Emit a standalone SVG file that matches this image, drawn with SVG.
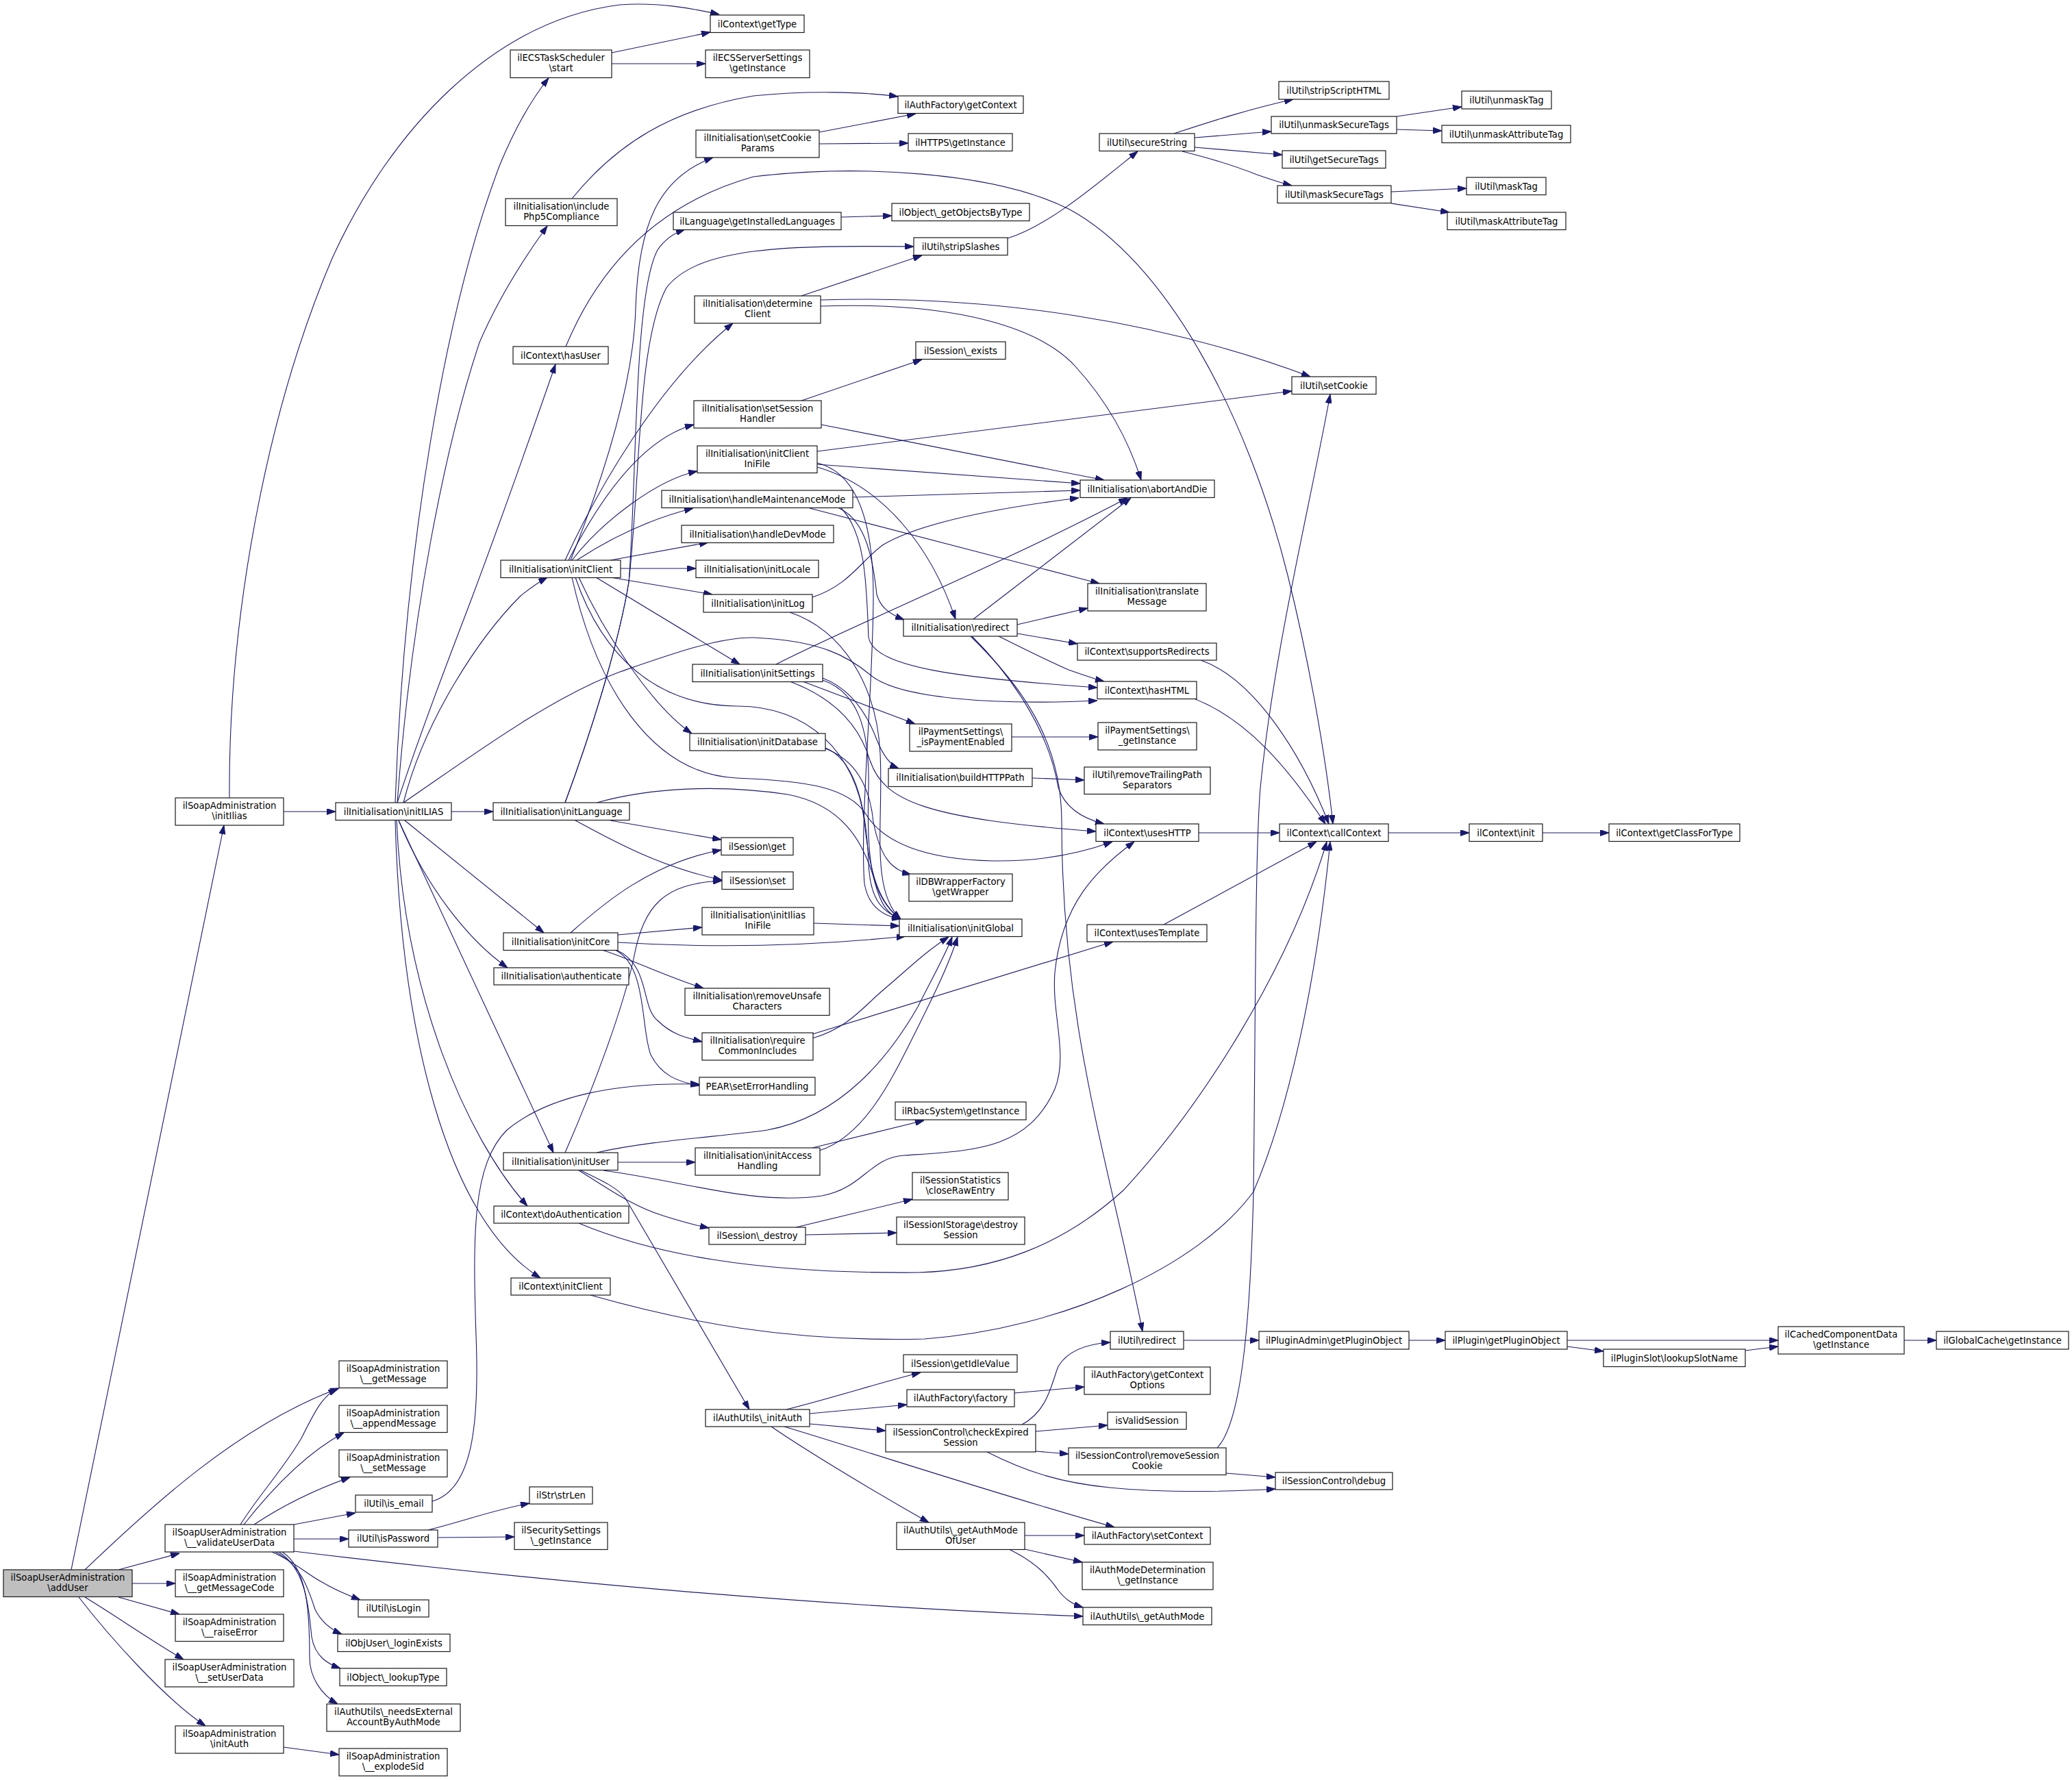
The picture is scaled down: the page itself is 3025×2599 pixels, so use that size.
<svg xmlns="http://www.w3.org/2000/svg" width="3025" height="2599" viewBox="0 0 3025 2599">
<style>
.node rect{fill:#fff;stroke:#1a1a1a;stroke-width:1.2}
.root rect{fill:#bfbfbf}
text{font-family:"DejaVu Sans","Liberation Sans",sans-serif;font-size:13.2px;text-anchor:middle;fill:#000}
#edges path{fill:none;stroke:#191970;stroke-width:1.1;marker-end:url(#arr)}
</style>
<defs>
<marker id="arr" markerWidth="13" markerHeight="9" refX="13" refY="4.5" orient="auto" markerUnits="userSpaceOnUse"><path d="M0,0 L13,4.5 L0,9 z" fill="#191970" stroke="#191970" stroke-width="1"/></marker>
</defs>
<rect width="3025" height="2599" fill="#fff"/>
<g id="edges">
<path d="M335,1165 C333,900 390,600 485,377 C570,190 720,30 905,7 C960,3 1010,12 1050,21"/>
<path d="M893,77 L1037,47"/>
<path d="M893,93 L1030,93"/>
<path d="M835,290 C900,210 980,160 1100,140 C1180,132 1260,134 1311,141"/>
<path d="M1196,193 L1337,166"/>
<path d="M1196,210 L1326,209"/>
<path d="M577,1172 C590,800 650,450 730,240 C755,180 780,140 801,114"/>
<path d="M580,1172 C600,900 650,650 700,500 C730,430 770,370 799,330"/>
<path d="M580,1172 C620,1050 660,950 690,870 C720,790 770,650 811,532"/>
<path d="M589,1172 C620,1050 700,930 760,870 C775,858 790,848 799,843"/>
<path d="M589,1172 C680,1110 800,1020 905,981 C980,955 1050,930 1100,931 C1200,935 1240,960 1270,985 C1310,1020 1450,1030 1602,1023"/>
<path d="M659,1185 L720,1185"/>
<path d="M591,1198 L794,1362"/>
<path d="M582,1198 C620,1290 680,1370 741,1413"/>
<path d="M582,1198 L808,1683"/>
<path d="M579,1198 C590,1450 680,1660 770,1761"/>
<path d="M577,1198 C585,1500 650,1780 789,1866"/>
<path d="M825,818 C870,720 960,560 1070,472"/>
<path d="M830,818 C880,720 940,640 1013,620"/>
<path d="M835,818 C880,760 960,700 1018,688"/>
<path d="M842,818 C900,780 960,755 1012,742"/>
<path d="M891,818 L1034,792"/>
<path d="M906,830 L1016,830"/>
<path d="M891,843 L1040,868"/>
<path d="M833,818 C880,700 925,560 928,450 C932,330 960,260 1041,230"/>
<path d="M825,1172 C870,1050 905,930 918,850 C930,700 925,430 960,365 C970,350 985,340 1000,335"/>
<path d="M825,1172 C870,1050 905,930 918,850 C935,700 930,500 973,420 C1020,360 1150,358 1334,360"/>
<path d="M1228,317 L1302,315"/>
<path d="M1170,432 L1346,373"/>
<path d="M1198,438 C1450,430 1700,470 1913,550"/>
<path d="M1198,447 C1400,440 1520,480 1570,535 C1620,590 1650,650 1666,701"/>
<path d="M1471,348 C1530,330 1600,270 1661,221"/>
<path d="M1170,585 L1346,525"/>
<path d="M1199,620 L1612,701"/>
<path d="M1193,659 L1886,571"/>
<path d="M1193,678 L1577,706"/>
<path d="M1193,682 C1290,710 1360,800 1395,904"/>
<path d="M1193,676 C1250,690 1275,760 1275,870 C1275,1000 1255,1200 1262,1290 C1268,1325 1290,1338 1315,1342"/>
<path d="M1245,726 L1577,716"/>
<path d="M1182,742 L1605,852"/>
<path d="M1225,742 C1265,760 1275,820 1280,868 C1285,885 1295,895 1320,905"/>
<path d="M1228,742 C1265,780 1265,860 1268,930 C1275,975 1400,990 1602,1004"/>
<path d="M1186,872 C1240,855 1260,815 1290,795 C1350,760 1470,740 1575,727"/>
<path d="M1153,894 C1230,920 1280,1000 1285,1100 C1290,1200 1270,1300 1315,1342"/>
<path d="M870,843 L1080,970"/>
<path d="M845,843 C880,920 950,1030 1010,1071"/>
<path d="M840,843 C880,960 960,1030 1075,1031 C1180,1030 1250,1100 1262,1200 C1270,1280 1285,1320 1315,1342"/>
<path d="M835,843 C870,1000 950,1130 1075,1136 C1180,1140 1240,1150 1265,1190 C1290,1230 1350,1255 1450,1257 C1520,1258 1580,1245 1624,1229"/>
<path d="M1421,904 L1651,727"/>
<path d="M1485,912 L1588,888"/>
<path d="M1485,925 L1573,940"/>
<path d="M1458,929 C1490,945 1530,965 1560,978 C1580,985 1600,992 1612,995"/>
<path d="M1419,929 C1470,980 1530,1060 1545,1150 C1555,1180 1580,1195 1612,1203"/>
<path d="M1417,929 C1490,1000 1550,1080 1550,1200 C1550,1500 1620,1700 1668,1944"/>
<path d="M1133,970 C1250,910 1450,830 1646,727"/>
<path d="M1153,995 C1220,1020 1255,1060 1270,1110 C1290,1170 1350,1195 1600,1214"/>
<path d="M1172,995 L1336,1057"/>
<path d="M1201,990 C1240,1005 1265,1040 1280,1080 C1290,1105 1300,1117 1312,1122"/>
<path d="M1201,993 C1250,1010 1270,1060 1268,1150 C1265,1250 1270,1310 1315,1342"/>
<path d="M1205,1093 C1250,1110 1270,1150 1275,1200 C1285,1250 1300,1270 1330,1277"/>
<path d="M1205,1092 C1250,1110 1265,1180 1268,1260 C1270,1310 1285,1330 1315,1342"/>
<path d="M891,1198 L1053,1226"/>
<path d="M840,1198 C890,1225 960,1265 1054,1285"/>
<path d="M871,1172 C950,1150 1050,1145 1150,1160 C1230,1175 1260,1230 1275,1280 C1285,1320 1295,1335 1315,1342"/>
<path d="M833,1362 C880,1320 950,1260 1053,1241"/>
<path d="M902,1365 L1025,1354"/>
<path d="M902,1376 C1000,1382 1150,1385 1322,1367"/>
<path d="M879,1387 C920,1400 970,1425 1027,1443"/>
<path d="M900,1387 C950,1410 935,1470 960,1490 C980,1510 1000,1515 1025,1521"/>
<path d="M898,1387 C945,1410 935,1500 950,1540 C965,1570 990,1580 1021,1585"/>
<path d="M1188,1348 L1313,1352"/>
<path d="M1186,1516 C1240,1500 1260,1470 1290,1445 C1320,1420 1350,1390 1385,1368"/>
<path d="M1186,1510 L1625,1375"/>
<path d="M825,1683 C870,1580 910,1470 925,1400 C940,1320 970,1290 1054,1286"/>
<path d="M871,1683 C950,1665 1050,1660 1120,1650 C1230,1630 1300,1540 1340,1470 C1360,1430 1380,1395 1390,1368"/>
<path d="M902,1697 L1015,1697"/>
<path d="M881,1709 C1000,1725 1100,1760 1200,1746 C1260,1735 1270,1690 1320,1687 C1420,1680 1500,1680 1540,1590 C1560,1540 1535,1480 1540,1420 C1550,1320 1600,1270 1656,1229"/>
<path d="M1196,1680 C1260,1660 1300,1580 1330,1520 C1360,1460 1385,1410 1398,1368"/>
<path d="M1186,1676 L1349,1636"/>
<path d="M845,1709 C880,1730 920,1760 968,1775 C990,1782 1010,1788 1035,1793"/>
<path d="M848,1709 C875,1722 898,1732 912,1748 L1094,2058"/>
<path d="M1162,1792 L1332,1751"/>
<path d="M1176,1803 L1309,1800"/>
<path d="M845,1786 C950,1830 1100,1860 1340,1858 C1450,1855 1550,1820 1640,1738 C1750,1620 1880,1420 1937,1229"/>
<path d="M862,1891 C1000,1930 1150,1960 1350,1955 C1550,1940 1750,1850 1830,1740 C1890,1600 1925,1400 1942,1229"/>
<path d="M631,2192 C690,2175 700,2080 695,1950 C690,1800 690,1700 740,1650 C800,1600 900,1580 1021,1583"/>
<path d="M1743,1020 C1820,1050 1880,1120 1935,1203"/>
<path d="M1753,964 C1830,990 1900,1100 1940,1203"/>
<path d="M826,506 C870,400 950,300 1100,258 C1250,240 1450,250 1560,305 C1700,380 1820,600 1880,840 C1910,960 1935,1100 1946,1203"/>
<path d="M1750,1216 L1868,1216"/>
<path d="M1699,1350 L1922,1229"/>
<path d="M2027,1216 L2145,1216"/>
<path d="M2252,1216 L2349,1216"/>
<path d="M1714,195 C1760,180 1820,160 1888,145"/>
<path d="M1744,201 L1856,192"/>
<path d="M1744,215 L1872,226"/>
<path d="M1726,221 C1770,232 1810,245 1835,255 C1855,262 1870,267 1886,271"/>
<path d="M2039,170 L2134,156"/>
<path d="M2039,189 L2105,191"/>
<path d="M2031,280 L2141,275"/>
<path d="M2031,297 L2116,310"/>
<path d="M1477,1076 L1603,1076"/>
<path d="M1507,1136 L1583,1139"/>
<path d="M1148,2058 C1220,2040 1280,2020 1344,2004"/>
<path d="M1182,2064 L1324,2051"/>
<path d="M1182,2079 L1293,2089"/>
<path d="M1145,2083 C1300,2130 1450,2180 1627,2230"/>
<path d="M1126,2083 C1180,2120 1280,2180 1356,2223"/>
<path d="M1481,2034 L1583,2025"/>
<path d="M1492,2080 C1530,2060 1535,2020 1545,1995 C1560,1970 1590,1962 1621,1960"/>
<path d="M1512,2090 L1617,2081"/>
<path d="M1512,2119 L1560,2123"/>
<path d="M1441,2120 C1500,2150 1550,2165 1620,2172 C1700,2180 1800,2178 1862,2174"/>
<path d="M1777,2114 C1810,2080 1825,1950 1830,1740 C1833,1500 1832,1250 1840,1150 C1860,950 1910,750 1942,576"/>
<path d="M1790,2151 L1862,2157"/>
<path d="M1496,2242 L1583,2242"/>
<path d="M1496,2262 L1580,2281"/>
<path d="M1473,2262 C1510,2280 1530,2300 1545,2322 C1555,2335 1565,2342 1581,2347"/>
<path d="M429,2265 C800,2310 1200,2345 1581,2360"/>
<path d="M1728,1957 L1838,1957"/>
<path d="M2057,1957 L2110,1957"/>
<path d="M2288,1957 L2596,1957"/>
<path d="M2288,1966 L2341,1973"/>
<path d="M2548,1972 L2596,1966"/>
<path d="M2780,1957 L2827,1957"/>
<path d="M104,2292 L327,1205"/>
<path d="M124,2292 C220,2200 350,2080 495,2027"/>
<path d="M173,2292 L262,2268"/>
<path d="M193,2312 L256,2312"/>
<path d="M173,2332 L262,2357"/>
<path d="M124,2332 C170,2360 220,2395 268,2423"/>
<path d="M115,2332 C160,2390 240,2480 300,2520"/>
<path d="M351,2226 C380,2180 410,2150 440,2100 C460,2060 470,2040 492,2027"/>
<path d="M356,2226 C400,2170 450,2120 502,2092"/>
<path d="M371,2226 C410,2200 460,2175 511,2157"/>
<path d="M429,2226 L519,2209"/>
<path d="M429,2247 L509,2247"/>
<path d="M397,2266 C430,2280 450,2300 470,2310 C490,2322 510,2330 526,2336"/>
<path d="M402,2266 C440,2285 450,2320 460,2350 C470,2370 485,2380 499,2386"/>
<path d="M407,2266 C445,2290 450,2340 455,2390 C460,2420 480,2430 497,2436"/>
<path d="M412,2266 C450,2290 452,2360 452,2420 C452,2450 470,2475 493,2488"/>
<path d="M625,2234 C680,2220 720,2205 773,2195"/>
<path d="M639,2245 L751,2244"/>
<path d="M414,2551 L495,2562"/>
<path d="M414,1185 L490,1185"/>
</g>
<g id="nodes">
<g id="n1" class="node"><rect x="1037" y="22" width="137" height="25.5"/><text x="1105.5" y="39.5">ilContext\getType</text></g>
<g id="n2" class="node"><rect x="745" y="73" width="148" height="40.5"/><text x="819" y="89">ilECSTaskScheduler</text><text x="819" y="104">\start</text></g>
<g id="n3" class="node"><rect x="1030" y="73" width="152" height="40.5"/><text x="1106" y="89">ilECSServerSettings</text><text x="1106" y="104">\getInstance</text></g>
<g id="n4" class="node"><rect x="1311" y="140" width="183" height="25.5"/><text x="1402.5" y="157.5">ilAuthFactory\getContext</text></g>
<g id="n5" class="node"><rect x="1016" y="190" width="180" height="40"/><text x="1106" y="206">ilInitialisation\setCookie</text><text x="1106" y="221">Params</text></g>
<g id="n6" class="node"><rect x="1326" y="195" width="152" height="25.5"/><text x="1402" y="212.5">ilHTTPS\getInstance</text></g>
<g id="n7" class="node"><rect x="738" y="290" width="163" height="39.5"/><text x="819.5" y="306">ilInitialisation\include</text><text x="819.5" y="321">Php5Compliance</text></g>
<g id="n8" class="node"><rect x="983" y="310" width="245" height="25.5"/><text x="1105.5" y="327.5">ilLanguage\getInstalledLanguages</text></g>
<g id="n9" class="node"><rect x="1302" y="297" width="201" height="25.5"/><text x="1402.5" y="314.5">ilObject\_getObjectsByType</text></g>
<g id="n10" class="node"><rect x="1334" y="347" width="137" height="25.5"/><text x="1402.5" y="364.5">ilUtil\stripSlashes</text></g>
<g id="n11" class="node"><rect x="1014" y="432" width="184" height="40"/><text x="1106" y="448">ilInitialisation\determine</text><text x="1106" y="463">Client</text></g>
<g id="n12" class="node"><rect x="749" y="506" width="139" height="25.5"/><text x="818.5" y="523.5">ilContext\hasUser</text></g>
<g id="n13" class="node"><rect x="1337" y="499" width="131" height="25.5"/><text x="1402.5" y="516.5">ilSession\_exists</text></g>
<g id="n14" class="node"><rect x="1013" y="585" width="186" height="40"/><text x="1106" y="601">ilInitialisation\setSession</text><text x="1106" y="616">Handler</text></g>
<g id="n15" class="node"><rect x="1018" y="651" width="175" height="39.5"/><text x="1105.5" y="667">ilInitialisation\initClient</text><text x="1105.5" y="682">IniFile</text></g>
<g id="n16" class="node"><rect x="966" y="716" width="279" height="25.5"/><text x="1105.5" y="733.5">ilInitialisation\handleMaintenanceMode</text></g>
<g id="n17" class="node"><rect x="995" y="767" width="222" height="25.5"/><text x="1106" y="784.5">ilInitialisation\handleDevMode</text></g>
<g id="n18" class="node"><rect x="731" y="818" width="175" height="25.5"/><text x="818.5" y="835.5">ilInitialisation\initClient</text></g>
<g id="n19" class="node"><rect x="1016" y="818" width="179" height="25.5"/><text x="1105.5" y="835.5">ilInitialisation\initLocale</text></g>
<g id="n20" class="node"><rect x="1867" y="119" width="161" height="26"/><text x="1947.5" y="136.5">ilUtil\stripScriptHTML</text></g>
<g id="n21" class="node"><rect x="2134" y="133" width="131" height="26"/><text x="2199.5" y="150.5">ilUtil\unmaskTag</text></g>
<g id="n22" class="node"><rect x="1856" y="170" width="183" height="25"/><text x="1947.5" y="187">ilUtil\unmaskSecureTags</text></g>
<g id="n23" class="node"><rect x="2105" y="183" width="188" height="25.5"/><text x="2199" y="200.5">ilUtil\unmaskAttributeTag</text></g>
<g id="n24" class="node"><rect x="1605" y="195" width="139" height="25.5"/><text x="1674.5" y="212.5">ilUtil\secureString</text></g>
<g id="n25" class="node"><rect x="1872" y="220" width="151" height="25.5"/><text x="1947.5" y="237.5">ilUtil\getSecureTags</text></g>
<g id="n26" class="node"><rect x="1865" y="271" width="166" height="25.5"/><text x="1948" y="288.5">ilUtil\maskSecureTags</text></g>
<g id="n27" class="node"><rect x="2141" y="259" width="116" height="25.5"/><text x="2199" y="276.5">ilUtil\maskTag</text></g>
<g id="n28" class="node"><rect x="2113" y="310" width="173" height="25.5"/><text x="2199.5" y="327.5">ilUtil\maskAttributeTag</text></g>
<g id="n29" class="node"><rect x="1886" y="550" width="123" height="25.5"/><text x="1947.5" y="567.5">ilUtil\setCookie</text></g>
<g id="n30" class="node"><rect x="1577" y="701" width="196" height="25.5"/><text x="1675" y="718.5">ilInitialisation\abortAndDie</text></g>
<g id="n31" class="node"><rect x="1588" y="852" width="173" height="40"/><text x="1674.5" y="868">ilInitialisation\translate</text><text x="1674.5" y="883">Message</text></g>
<g id="n32" class="node"><rect x="256" y="1165" width="158" height="40"/><text x="335" y="1181">ilSoapAdministration</text><text x="335" y="1196">\initIlias</text></g>
<g id="n33" class="node"><rect x="490" y="1172" width="169" height="25.5"/><text x="574.5" y="1189.5">ilInitialisation\initILIAS</text></g>
<g id="n34" class="node"><rect x="720" y="1172" width="199" height="25.5"/><text x="819.5" y="1189.5">ilInitialisation\initLanguage</text></g>
<g id="n35" class="node"><rect x="735" y="1362" width="167" height="25.5"/><text x="818.5" y="1379.5">ilInitialisation\initCore</text></g>
<g id="n36" class="node"><rect x="721" y="1413" width="197" height="25"/><text x="819.5" y="1430">ilInitialisation\authenticate</text></g>
<g id="n37" class="node"><rect x="1027" y="868" width="159" height="26"/><text x="1106.5" y="885.5">ilInitialisation\initLog</text></g>
<g id="n38" class="node"><rect x="1319" y="904" width="166" height="25"/><text x="1402" y="921">ilInitialisation\redirect</text></g>
<g id="n39" class="node"><rect x="1011" y="970" width="190" height="25.5"/><text x="1106" y="987.5">ilInitialisation\initSettings</text></g>
<g id="n40" class="node"><rect x="1328" y="1057" width="149" height="40"/><text x="1402.5" y="1073">ilPaymentSettings\</text><text x="1402.5" y="1088">_isPaymentEnabled</text></g>
<g id="n41" class="node"><rect x="1007" y="1071" width="198" height="25"/><text x="1106" y="1088">ilInitialisation\initDatabase</text></g>
<g id="n42" class="node"><rect x="1297" y="1122" width="210" height="26.5"/><text x="1402" y="1140">ilInitialisation\buildHTTPPath</text></g>
<g id="n43" class="node"><rect x="1053" y="1223" width="105" height="25.5"/><text x="1105.5" y="1240.5">ilSession\get</text></g>
<g id="n44" class="node"><rect x="1054" y="1273" width="104" height="25.5"/><text x="1106" y="1290.5">ilSession\set</text></g>
<g id="n45" class="node"><rect x="1327" y="1276" width="151" height="40"/><text x="1402.5" y="1292">ilDBWrapperFactory</text><text x="1402.5" y="1307">\getWrapper</text></g>
<g id="n46" class="node"><rect x="1025" y="1325" width="163" height="40"/><text x="1106.5" y="1341">ilInitialisation\initIlias</text><text x="1106.5" y="1356">IniFile</text></g>
<g id="n47" class="node"><rect x="1313" y="1342" width="179" height="25.5"/><text x="1402.5" y="1359.5">ilInitialisation\initGlobal</text></g>
<g id="n48" class="node"><rect x="1000" y="1443" width="211" height="39.5"/><text x="1105.5" y="1459">ilInitialisation\removeUnsafe</text><text x="1105.5" y="1474">Characters</text></g>
<g id="n49" class="node"><rect x="1025" y="1508" width="162" height="40"/><text x="1106" y="1524">ilInitialisation\require</text><text x="1106" y="1539">CommonIncludes</text></g>
<g id="n50" class="node"><rect x="1021" y="1573" width="169" height="26"/><text x="1105.5" y="1590.5">PEAR\setErrorHandling</text></g>
<g id="n51" class="node"><rect x="1307" y="1609" width="191" height="26"/><text x="1402.5" y="1626.5">ilRbacSystem\getInstance</text></g>
<g id="n52" class="node"><rect x="1015" y="1676" width="182" height="40"/><text x="1106" y="1692">ilInitialisation\initAccess</text><text x="1106" y="1707">Handling</text></g>
<g id="n53" class="node"><rect x="735" y="1683" width="167" height="25.5"/><text x="818.5" y="1700.5">ilInitialisation\initUser</text></g>
<g id="n54" class="node"><rect x="1332" y="1712" width="140" height="40"/><text x="1402" y="1728">ilSessionStatistics</text><text x="1402" y="1743">\closeRawEntry</text></g>
<g id="n55" class="node"><rect x="1573" y="939" width="203" height="25"/><text x="1674.5" y="956">ilContext\supportsRedirects</text></g>
<g id="n56" class="node"><rect x="1602" y="995" width="145" height="25.5"/><text x="1674.5" y="1012.5">ilContext\hasHTML</text></g>
<g id="n57" class="node"><rect x="1603" y="1055" width="144" height="40"/><text x="1675" y="1071">ilPaymentSettings\</text><text x="1675" y="1086">_getInstance</text></g>
<g id="n58" class="node"><rect x="1583" y="1120" width="184" height="39.5"/><text x="1675" y="1136">ilUtil\removeTrailingPath</text><text x="1675" y="1151">Separators</text></g>
<g id="n59" class="node"><rect x="1600" y="1203" width="150" height="25.5"/><text x="1675" y="1220.5">ilContext\usesHTTP</text></g>
<g id="n60" class="node"><rect x="1868" y="1203" width="159" height="25.5"/><text x="1947.5" y="1220.5">ilContext\callContext</text></g>
<g id="n61" class="node"><rect x="2145" y="1203" width="107" height="25.5"/><text x="2198.5" y="1220.5">ilContext\init</text></g>
<g id="n62" class="node"><rect x="1587" y="1350" width="175" height="25"/><text x="1674.5" y="1367">ilContext\usesTemplate</text></g>
<g id="n63" class="node"><rect x="2349" y="1203" width="191" height="25.5"/><text x="2444.5" y="1220.5">ilContext\getClassForType</text></g>
<g id="n64" class="node"><rect x="721" y="1761" width="197" height="25"/><text x="819.5" y="1778">ilContext\doAuthentication</text></g>
<g id="n65" class="node"><rect x="746" y="1866" width="145" height="25"/><text x="818.5" y="1883">ilContext\initClient</text></g>
<g id="n66" class="node"><rect x="1035" y="1792" width="141" height="25"/><text x="1105.5" y="1809">ilSession\_destroy</text></g>
<g id="n67" class="node"><rect x="1309" y="1777" width="187" height="40"/><text x="1402.5" y="1793">ilSessionIStorage\destroy</text><text x="1402.5" y="1808">Session</text></g>
<g id="n68" class="node"><rect x="1319" y="1978" width="166" height="25.5"/><text x="1402" y="1995.5">ilSession\getIdleValue</text></g>
<g id="n69" class="node"><rect x="1324" y="2029" width="157" height="25"/><text x="1402.5" y="2046">ilAuthFactory\factory</text></g>
<g id="n70" class="node"><rect x="1030" y="2058" width="152" height="25"/><text x="1106" y="2075">ilAuthUtils\_initAuth</text></g>
<g id="n71" class="node"><rect x="1293" y="2080" width="219" height="40"/><text x="1402.5" y="2096">ilSessionControl\checkExpired</text><text x="1402.5" y="2111">Session</text></g>
<g id="n72" class="node"><rect x="1309" y="2223" width="187" height="39.5"/><text x="1402.5" y="2239">ilAuthUtils\_getAuthMode</text><text x="1402.5" y="2254">OfUser</text></g>
<g id="n73" class="node"><rect x="1621" y="1944" width="107" height="26"/><text x="1674.5" y="1961.5">ilUtil\redirect</text></g>
<g id="n74" class="node"><rect x="1838" y="1944" width="219" height="26"/><text x="1947.5" y="1961.5">ilPluginAdmin\getPluginObject</text></g>
<g id="n75" class="node"><rect x="2110" y="1944" width="178" height="26"/><text x="2199" y="1961.5">ilPlugin\getPluginObject</text></g>
<g id="n76" class="node"><rect x="1583" y="1996" width="184" height="40"/><text x="1675" y="2012">ilAuthFactory\getContext</text><text x="1675" y="2027">Options</text></g>
<g id="n77" class="node"><rect x="1617" y="2062" width="115" height="25"/><text x="1674.5" y="2079">isValidSession</text></g>
<g id="n78" class="node"><rect x="1560" y="2114" width="230" height="39.5"/><text x="1675" y="2130">ilSessionControl\removeSession</text><text x="1675" y="2145">Cookie</text></g>
<g id="n79" class="node"><rect x="1862" y="2150" width="171" height="25"/><text x="1947.5" y="2167">ilSessionControl\debug</text></g>
<g id="n80" class="node"><rect x="1583" y="2230" width="184" height="25"/><text x="1675" y="2247">ilAuthFactory\setContext</text></g>
<g id="n81" class="node"><rect x="1580" y="2281" width="191" height="40"/><text x="1675.5" y="2297">ilAuthModeDetermination</text><text x="1675.5" y="2312">\_getInstance</text></g>
<g id="n82" class="node"><rect x="1581" y="2347" width="188" height="25.5"/><text x="1675" y="2364.5">ilAuthUtils\_getAuthMode</text></g>
<g id="n83" class="node"><rect x="2341" y="1970" width="207" height="25.5"/><text x="2444.5" y="1987.5">ilPluginSlot\lookupSlotName</text></g>
<g id="n84" class="node"><rect x="2596" y="1937" width="184" height="40"/><text x="2688" y="1953">ilCachedComponentData</text><text x="2688" y="1968">\getInstance</text></g>
<g id="n85" class="node"><rect x="2827" y="1944" width="193" height="26"/><text x="2923.5" y="1961.5">ilGlobalCache\getInstance</text></g>
<g id="n86" class="node"><rect x="495" y="1987" width="158" height="39.5"/><text x="574" y="2003">ilSoapAdministration</text><text x="574" y="2018">\__getMessage</text></g>
<g id="n87" class="node"><rect x="495" y="2052" width="158" height="39.5"/><text x="574" y="2068">ilSoapAdministration</text><text x="574" y="2083">\__appendMessage</text></g>
<g id="n88" class="node"><rect x="495" y="2117" width="158" height="39.5"/><text x="574" y="2133">ilSoapAdministration</text><text x="574" y="2148">\__setMessage</text></g>
<g id="n89" class="node"><rect x="519" y="2183" width="112" height="25"/><text x="575" y="2200">ilUtil\is_email</text></g>
<g id="n90" class="node"><rect x="241" y="2226" width="188" height="40"/><text x="335" y="2242">ilSoapUserAdministration</text><text x="335" y="2257">\__validateUserData</text></g>
<g id="n91" class="node"><rect x="509" y="2234" width="130" height="25"/><text x="574" y="2251">ilUtil\isPassword</text></g>
<g id="n92" class="node"><rect x="751" y="2223" width="136" height="39.5"/><text x="819" y="2239">ilSecuritySettings</text><text x="819" y="2254">\_getInstance</text></g>
<g id="n93" class="node"><rect x="773" y="2171" width="92" height="25"/><text x="819" y="2188">ilStr\strLen</text></g>
<g id="n94" class="node root"><rect x="5" y="2292" width="188" height="39.5"/><text x="99" y="2308">ilSoapUserAdministration</text><text x="99" y="2323">\addUser</text></g>
<g id="n95" class="node"><rect x="256" y="2292" width="158" height="39.5"/><text x="335" y="2308">ilSoapAdministration</text><text x="335" y="2323">\__getMessageCode</text></g>
<g id="n96" class="node"><rect x="523" y="2336" width="103" height="25"/><text x="574.5" y="2353">ilUtil\isLogin</text></g>
<g id="n97" class="node"><rect x="256" y="2357" width="158" height="39.5"/><text x="335" y="2373">ilSoapAdministration</text><text x="335" y="2388">\__raiseError</text></g>
<g id="n98" class="node"><rect x="493" y="2386" width="164" height="25.5"/><text x="575" y="2403.5">ilObjUser\_loginExists</text></g>
<g id="n99" class="node"><rect x="241" y="2423" width="188" height="40"/><text x="335" y="2439">ilSoapUserAdministration</text><text x="335" y="2454">\__setUserData</text></g>
<g id="n100" class="node"><rect x="496" y="2436" width="156" height="25.5"/><text x="574" y="2453.5">ilObject\_lookupType</text></g>
<g id="n101" class="node"><rect x="477" y="2488" width="195" height="40"/><text x="574.5" y="2504">ilAuthUtils\_needsExternal</text><text x="574.5" y="2519">AccountByAuthMode</text></g>
<g id="n102" class="node"><rect x="256" y="2520" width="158" height="40"/><text x="335" y="2536">ilSoapAdministration</text><text x="335" y="2551">\initAuth</text></g>
<g id="n103" class="node"><rect x="495" y="2553" width="158" height="40"/><text x="574" y="2569">ilSoapAdministration</text><text x="574" y="2584">\__explodeSid</text></g>
</g>
</svg>
